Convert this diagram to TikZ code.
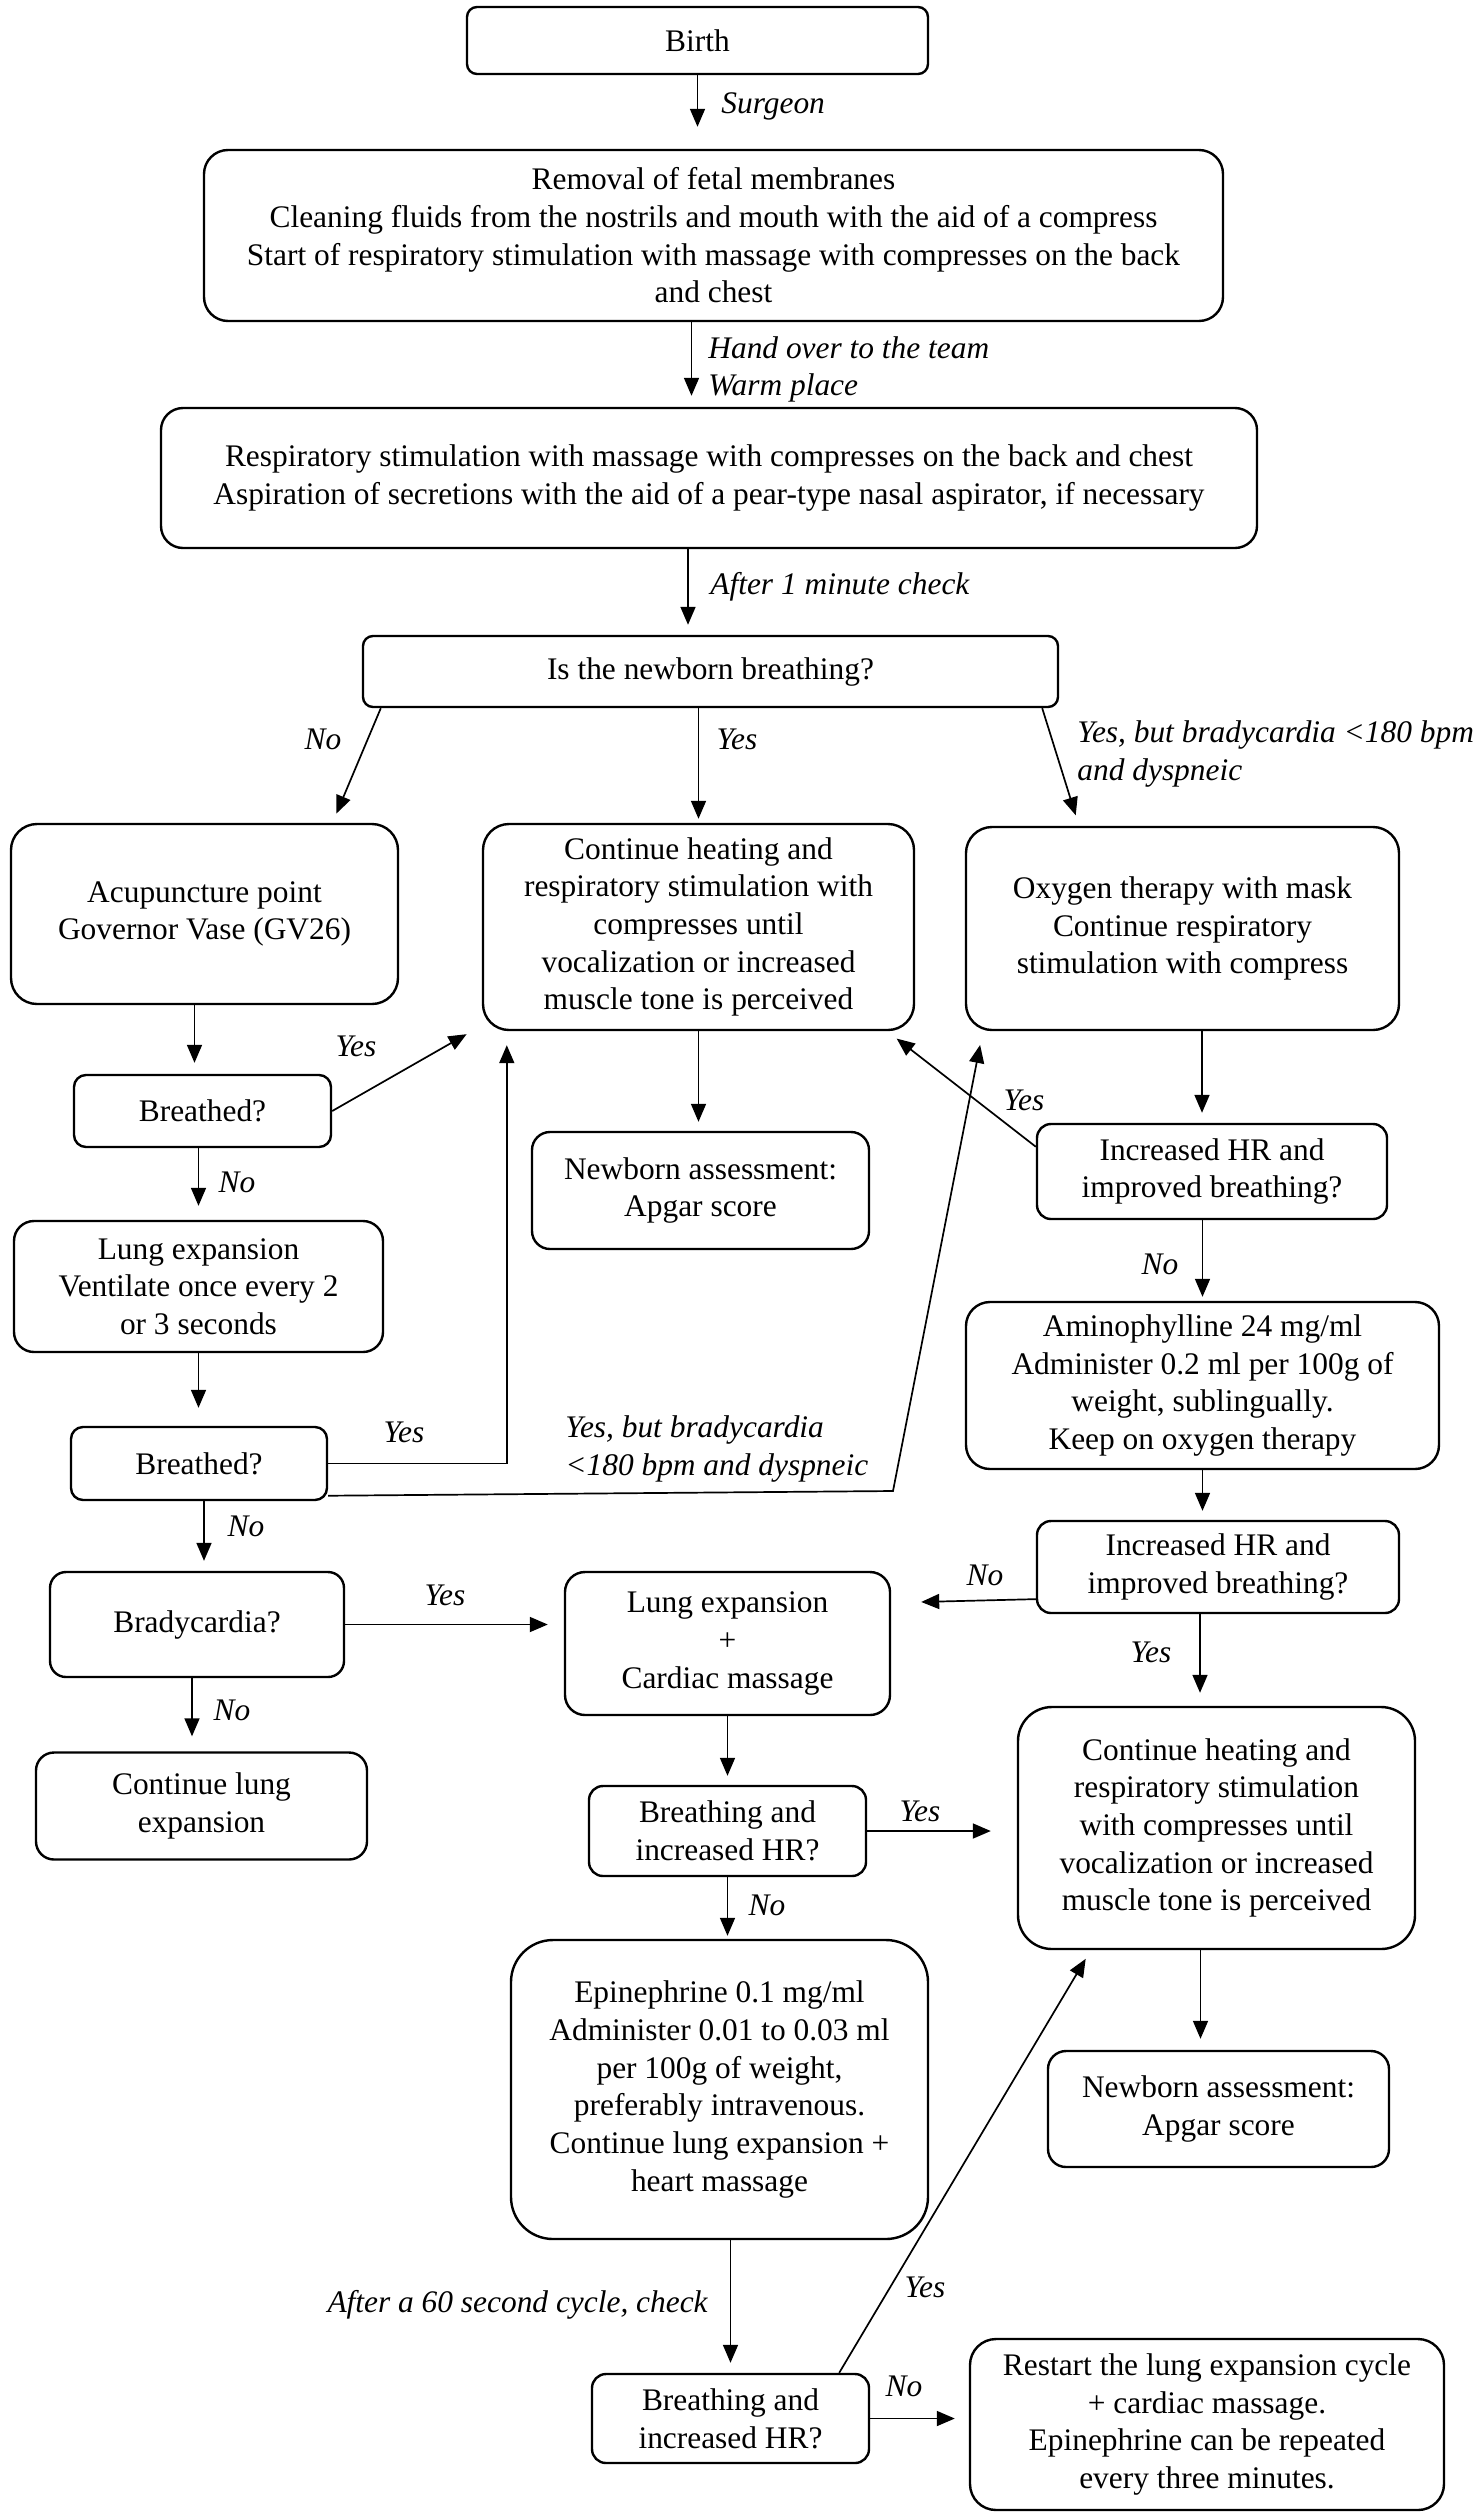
\documentclass[tikz,border=0pt]{standalone}
\usepackage{fontspec}
\setmainfont{Liberation Serif}
\usetikzlibrary{arrows.meta}

\begin{document}
\begin{tikzpicture}[x=0.5pt,y=0.5pt,yscale=-1,xscale=1,
  box/.style={draw, line width=1.2pt, rounded corners=#1, align=center, inner sep=0pt, font=\fontsize{15.7}{18.85}\selectfont},
  box/.default=6pt,
  arr/.style={line width=0.85pt, -{Triangle[length=9pt,width=7.5pt]}},
  lbl/.style={inner sep=0pt, align=left, font=\fontsize{15.7}{18.85}\selectfont\itshape}]
%set diagram size to the reference
\useasboundingbox (0,0) rectangle (1477,2516);

%Shape: Rounded Rect
\node [box=5pt, minimum width=230.5pt, minimum height=33.5pt] (birth) at (697.5,40.5) {Birth};
\node [box=12pt, minimum width=509.5pt, minimum height=85.5pt] (removal) at (713.5,235.5) {Removal of fetal membranes\\Cleaning fluids from the nostrils and mouth with the aid of a compress\\Start of respiratory stimulation with massage with compresses on the back\\and chest};
\node [box=11pt, minimum width=548pt, minimum height=70pt] (resp) at (709,478) {Respiratory stimulation with massage with compresses on the back and chest\\Aspiration of secretions with the aid of a pear-type nasal aspirator, if necessary};
\node [box=5pt, minimum width=347.5pt, minimum height=35.5pt] (isbreath) at (710.5,671.5) {Is the newborn breathing?};

%Shape: Rounded Rect
\node [box=13pt, minimum width=193.5pt, minimum height=90pt] (acup) at (204.5,914) {Acupuncture point\\Governor Vase (GV26)};
\node [box=13pt, minimum width=215.5pt, minimum height=103pt] (cont1) at (698.5,927) {Continue heating and\\respiratory stimulation with\\compresses until\\vocalization or increased\\muscle tone is perceived};
\node [box=13pt, minimum width=216.5pt, minimum height=101.5pt] (oxy) at (1182.5,928.5) {Oxygen therapy with mask\\Continue respiratory\\stimulation with compress};
\node [box=6pt, minimum width=128.5pt, minimum height=36pt] (breath1) at (202.5,1111) {Breathed?};
\node [box=9pt, minimum width=168.5pt, minimum height=58.5pt] (assess1) at (700.5,1190.5) {Newborn assessment:\\Apgar score};
\node [box=7pt, minimum width=175pt, minimum height=47.5pt] (hr1) at (1212,1171.5) {Increased HR and\\improved breathing?};
\node [box=10pt, minimum width=184.5pt, minimum height=65.5pt] (lung1) at (198.5,1286.5) {Lung expansion\\Ventilate once every 2\\or 3 seconds};
\node [box=12pt, minimum width=236.5pt, minimum height=83.5pt] (amino) at (1202.5,1385.5) {Aminophylline 24 mg/ml\\Administer 0.2 ml per 100g of\\weight, sublingually.\\Keep on oxygen therapy};
\node [box=6pt, minimum width=128pt, minimum height=36.5pt] (breath2) at (199,1463.5) {Breathed?};
\node [box=7pt, minimum width=181pt, minimum height=46pt] (hr2) at (1218,1567) {Increased HR and\\improved breathing?};

%Shape: Rounded Rect
\node [box=8pt, minimum width=147pt, minimum height=52.5pt] (brady) at (197,1624.5) {Bradycardia?};
\node [box=10pt, minimum width=162.5pt, minimum height=71.5pt] (lungcm) at (727.5,1643.5) {Lung expansion\\+\\Cardiac massage};
\node [box=9pt, minimum width=165.5pt, minimum height=53.5pt] (contlung) at (201.5,1806) {Continue lung\\expansion};
\node [box=7pt, minimum width=138.5pt, minimum height=45pt] (bhr1) at (727.5,1831) {Breathing and\\increased HR?};
\node [box=17pt, minimum width=198.5pt, minimum height=121pt] (cont2) at (1216.5,1828) {Continue heating and\\respiratory stimulation\\with compresses until\\vocalization or increased\\muscle tone is perceived};
\node [box=21pt, minimum width=208.5pt, minimum height=149.5pt] (epi) at (719.5,2089.5) {Epinephrine 0.1 mg/ml\\Administer 0.01 to 0.03 ml\\per 100g of weight,\\preferably intravenous.\\Continue lung expansion +\\heart massage};
\node [box=9pt, minimum width=170.5pt, minimum height=58pt] (assess2) at (1218.5,2109) {Newborn assessment:\\Apgar score};
\node [box=7pt, minimum width=138.5pt, minimum height=44.5pt] (bhr2) at (730.5,2418.5) {Breathing and\\increased HR?};
\node [box=13pt, minimum width=237pt, minimum height=85.5pt] (restart) at (1207,2424.5) {Restart the lung expansion cycle\\+ cardiac massage.\\Epinephrine can be repeated\\every three minutes.};

\coordinate (bend) at (893,1491);

%Straight Lines
\draw [arr, shorten >=11pt] (birth.south) -- (birth.south |- removal.north);
\draw [arr, shorten >=5.5pt] ([xshift=-11pt]removal.south) -- ([xshift=-11pt]removal.south |- resp.north);
\draw [arr, shorten >=5pt] ([xshift=-10.5pt]resp.south) -- ([xshift=-10.5pt]resp.south |- isbreath.north);
\draw [arr, shorten >=5pt] ([xshift=9.5pt]isbreath.south west) -- ([xshift=64pt]acup.north);
\draw [arr, shorten >=2pt] (cont1.north |- isbreath.south) -- (cont1.north);
\draw [arr, shorten >=5.5pt] ([xshift=-8.5pt]isbreath.south east) -- ([xshift=-51.75pt]oxy.north);

%Straight Lines
\draw [arr, shorten >=5.5pt] ([xshift=-5pt]acup.south) -- ([xshift=-5pt]acup.south |- breath1.north);
\draw [arr, shorten >=3pt] (breath1.east) -- ([xshift=-5pt]cont1.south west);
\draw [arr, shorten >=7pt] (lung1.north |- breath1.south) -- (lung1.north);
\draw [arr, shorten >=4.5pt] (cont1.south) -- (cont1.south |- assess1.north);
\draw [arr, shorten >=5pt] ([xshift=9.75pt]oxy.south) -- ([xshift=9.75pt]oxy.south |- hr1.north);
\draw [arr, shorten >=6pt] (hr1.172) -- ([xshift=-14pt]cont1.south east);
\draw [arr, shorten >=2pt] (amino.north |- hr1.south) -- (amino.north);
\draw [arr, shorten >=9pt] (lung1.south) -- (lung1.south |- breath2.north);
\draw [arr, shorten >=7pt] (breath2.east) -| ([xshift=12.5pt]cont1.south west);
\draw [arr, shorten >=7pt] (breath2.-14) -- (bend) -- ([xshift=9pt]oxy.south west);
\draw [arr, shorten >=5pt] ([xshift=2.5pt]breath2.south) -- ([xshift=2.5pt]breath2.south |- brady.north);
\draw [arr, shorten >=4.5pt] (amino.south) -- (amino.south |- hr2.north);

%Straight Lines
\draw [arr, shorten >=15pt] (hr2.190) -- (lungcm.14);
\draw [arr, shorten >=6.5pt] ([xshift=-9pt]hr2.south) -- ([xshift=-9pt]hr2.south |- cont2.north);
\draw [arr, shorten >=8pt] (brady.east) -- (brady.east -| lungcm.west);
\draw [arr, shorten >=7.5pt] ([xshift=-2.5pt]brady.south) -- ([xshift=-2.5pt]brady.south |- contlung.north);
\draw [arr, shorten >=4.5pt] (lungcm.south) -- (lungcm.south |- bhr1.north);
\draw [arr, shorten >=13pt] (bhr1.east) -- (bhr1.east -| cont2.west);
\draw [arr, shorten >=1.5pt] (bhr1.south) -- (bhr1.south |- epi.north);
\draw [arr, shorten >=5.5pt] ([xshift=-8pt]cont2.south) -- ([xshift=-8pt]cont2.south |- assess2.north);
\draw [arr, shorten >=5pt] (bhr2.north |- epi.south) -- (bhr2.north);
\draw [arr, shorten >=5pt] ([xshift=-15.5pt]bhr2.north east) -- ([xshift=37pt]cont2.south west);
\draw [arr, shorten >=7pt] (bhr2.east) -- (bhr2.east -| restart.west);

% Text Node
\node [lbl, anchor=west] (lSurgeon) at (721,106) {Surgeon};
\node [lbl, anchor=west] (lHand) at (708,369.5) {Hand over to the team\\Warm place};
\node [lbl, anchor=west] (lAfter1) at (710,587) {After 1 minute check};
\node [lbl] (lNo1) at (323,739) {No};
\node [lbl] (lYes1) at (737,739) {Yes};
\node [lbl, anchor=west] (lYesBut1) at (1077,754) {Yes, but bradycardia <180 bpm\\and dyspneic};
\node [lbl] (lYes2) at (356,1046) {Yes};
\node [lbl] (lNo2) at (237,1182) {No};
\node [lbl] (lYes3) at (1024,1100) {Yes};
\node [lbl] (lNo3) at (1160,1264) {No};
\node [lbl] (lYes4) at (404,1432) {Yes};
\node [lbl, anchor=west] (lYesBut2) at (565,1449) {Yes, but bradycardia\\<180 bpm and dyspneic};
\node [lbl] (lNo4) at (246,1526) {No};
\node [lbl] (lNo5) at (985,1575) {No};
\node [lbl] (lYes5) at (1151,1652) {Yes};
\node [lbl] (lYes6) at (445,1595) {Yes};
\node [lbl] (lNo6) at (232,1710) {No};
\node [lbl] (lYes7) at (920,1811) {Yes};
\node [lbl] (lNo7) at (767,1905) {No};
\node [lbl, anchor=east] (lAfter60) at (708,2305) {After a 60 second cycle, check};
\node [lbl] (lYes8) at (925,2287) {Yes};
\node [lbl] (lNo8) at (904,2386) {No};

\end{tikzpicture}
\end{document}
